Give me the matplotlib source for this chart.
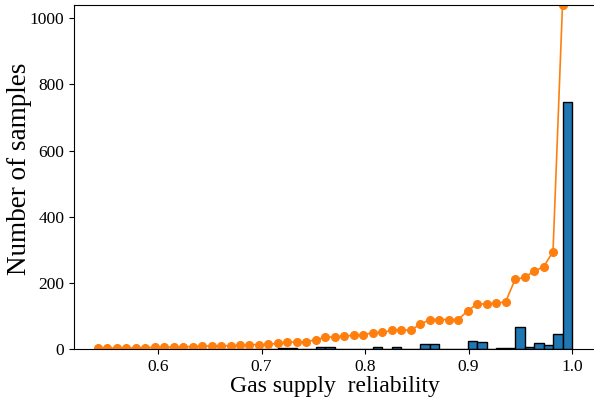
import numpy as np
import matplotlib
matplotlib.use("Agg")
import matplotlib.pyplot as plt

plt.rcParams['font.family'] = ['Liberation Serif', 'DejaVu Serif']

# Data: histogram of gas supply reliability (50 bins)
reliability_min = 0.5417
reliability_max = 1.0
n_bins = 50
counts = [3, 0, 1, 0, 0, 1, 1, 0, 1, 1,
          0, 1, 1, 1, 0, 1, 2, 0, 1, 3,
          4, 0, 1, 6, 7, 2, 2, 2, 2, 6,
          1, 6, 1, 0, 17, 15, 0, 0, 0, 26,
          21, 0, 3, 3, 68, 6, 19, 13, 46, 746]
y_ticks = [0, 200, 400, 600, 800, 1000]
x_ticks = [0.6, 0.7, 0.8, 0.9, 1.0]

edges = np.linspace(reliability_min, reliability_max, n_bins + 1)
cumulative = np.cumsum(counts)

fig = plt.figure(figsize=(5.94, 4.03), dpi=100)
ax = fig.add_axes([74 / 594, 1 - 349.3 / 403, 521.7 / 594, (349.3 - 5) / 403])

ax.bar(edges[:-1], counts, width=np.diff(edges), align='edge',
       color='#1f77b4', edgecolor='black', linewidth=1.0)
ax.plot(edges[:-1], cumulative, color='#ff7f0e', marker='o', markersize=5.5,
        linewidth=1.2)

ax.set_ylim(0, 1040)
ax.set_xticks(x_ticks)
ax.set_yticks(y_ticks)
ax.tick_params(labelsize=12.5)
ax.set_xlabel('Gas supply  reliability', fontsize=17, labelpad=1)
ax.set_ylabel('Number of samples', fontsize=19.5)
ax.yaxis.set_label_coords(-0.08, 0.525)

fig.savefig('out.png', dpi=100)
